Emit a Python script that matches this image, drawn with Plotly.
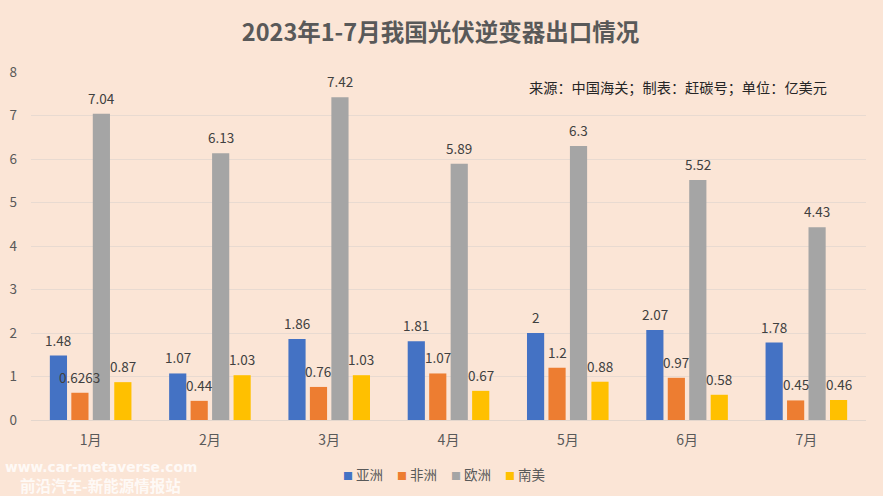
import plotly.graph_objects as go

FONT = "Noto Sans CJK SC"
TICK_GREY = "#595959"

months = ["1月", "2月", "3月", "4月", "5月", "6月", "7月"]
asia = [1.48, 1.07, 1.86, 1.81, 2, 2.07, 1.78]
africa = [0.6263, 0.44, 0.76, 1.07, 1.2, 0.97, 0.45]
europe = [7.04, 6.13, 7.42, 5.89, 6.3, 5.52, 4.43]
south_america = [0.87, 1.03, 1.03, 0.67, 0.88, 0.58, 0.46]

series = [
    ("亚洲", asia, "#4472C4"),
    ("非洲", africa, "#ED7D31"),
    ("欧洲", europe, "#A5A5A5"),
    ("南美", south_america, "#FFC000"),
]


def paper_x(px):
    return (px - 31) / 835


def paper_y(px):
    return (420 - px) / 348


def page_note(px, py, text, size, color, family=FONT):
    return dict(
        x=paper_x(px), y=paper_y(py), xref="paper", yref="paper",
        xanchor="center", yanchor="middle", text=text, showarrow=False,
        font=dict(size=size, color=color, family=family),
    )


fig = go.Figure()
annotations = []
for i, (name, values, color) in enumerate(series):
    fig.add_trace(go.Bar(x=months, y=values, name=name, marker=dict(color=color, line_width=0)))
    # 数据标签比柱顶高一点，按系列错开
    for m, v in zip(months, values):
        annotations.append(dict(
            x=m, y=v, xref="x", yref="y", text=str(v), showarrow=False,
            xshift=(i - 1.5) * 21.5, yshift=16,
            font=dict(size=13.5, color="#404040", family=FONT),
        ))
    # 图例：方块和文字贴得很近，plotly 自带图例做不到
    annotations.append(page_note(
        362.5 + i * 54, 474,
        f'<span style="color:{color};font-size:10px">■</span> {name}', 13.5, TICK_GREY,
    ))

annotations.append(page_note(678, 87, "来源：中国海关；制表：赶碳号；单位：亿美元", 14.2, "#262626"))
# 水印
white = "rgba(255,255,255,0.8)"
annotations.append(page_note(100.5, 467, "<b>www.car-metaverse.com</b>", 13.8, white, "DejaVu Sans"))
annotations.append(page_note(100, 485, "<b>前沿汽车-新能源情报站</b>", 15.5, white))

fig.update_layout(
    width=883,
    height=496,
    paper_bgcolor="#FBE5D6",
    plot_bgcolor="#FBE5D6",
    title=dict(
        text="<b>2023年1-7月我国光伏逆变器出口情况</b>",
        x=440.5 / 883, xanchor="center", y=1 - 33 / 496, yanchor="middle",
        font=dict(size=23.5, color=TICK_GREY, family=FONT),
    ),
    margin=dict(l=31, r=17, t=72, b=76, autoexpand=False),
    barmode="group",
    bargap=0.28,
    bargroupgap=0.2,
    showlegend=False,
    annotations=annotations,
    font=dict(family=FONT),
)
fig.update_xaxes(
    showgrid=False, showline=True, linecolor="#E3D6CD", linewidth=1, ticks="",
    ticklabelstandoff=7,
    tickfont=dict(size=14, color=TICK_GREY, family=FONT),
)
fig.update_yaxes(
    range=[0, 8], dtick=1, showgrid=True, gridcolor="#E8DAD1", gridwidth=1,
    zeroline=False, showline=False, ticks="", ticklabelstandoff=13,
    tickfont=dict(size=13.5, color=TICK_GREY, family=FONT),
)

# 去掉页面默认的 body 外边距，图才能贴满窗口
fig.write_html(
    "out.html",
    config={"displayModeBar": False},
    post_script="document.body.style.margin='0';",
)
